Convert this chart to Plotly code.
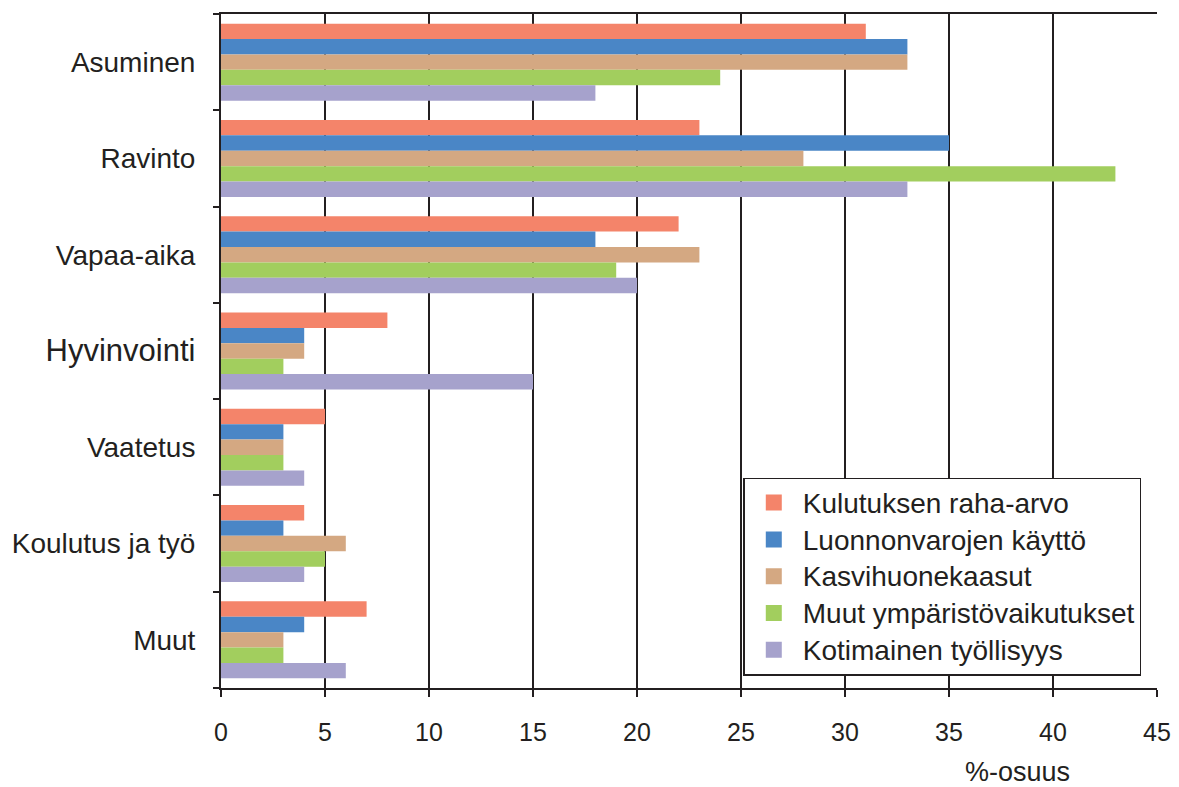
import plotly.graph_objects as go

categories = ["Asuminen", "Ravinto", "Vapaa-aika", "Hyvinvointi", "Vaatetus", "Koulutus ja työ", "Muut"]
series_names = ["Kulutuksen raha-arvo", "Luonnonvarojen käyttö", "Kasvihuonekaasut",
                "Muut ympäristövaikutukset", "Kotimainen työllisyys"]
raha_arvo = [31, 23, 22, 8, 5, 4, 7]
luonnonvarat = [33, 35, 18, 4, 3, 3, 4]
kasvihuone = [33, 28, 23, 4, 3, 6, 3]
muut_ymp = [24, 43, 19, 3, 3, 5, 3]
tyollisyys = [18, 33, 20, 15, 4, 4, 6]
x_ticks = [0, 5, 10, 15, 20, 25, 30, 35, 40, 45]

colors = ["#F4846A", "#4A86C6", "#D4A882", "#A2CE5E", "#A6A2CC"]
values = [raha_arvo, luonnonvarat, kasvihuone, muut_ymp, tyollisyys]
ink = "#231f20"

fig = go.Figure()
for name, vals, col in zip(series_names, values, colors):
    fig.add_trace(go.Bar(y=categories, x=vals, name=name, orientation="h",
                         marker=dict(color=col, line=dict(width=0)), showlegend=False))
# legend entries with larger square swatches
for name, col in zip(series_names, colors):
    fig.add_trace(go.Scatter(x=[None], y=[None], mode="markers",
                             name='<span style="font-size:28px">' + name + '</span>',
                             marker=dict(symbol="square", size=20, color=col)))

ticktext = [c if c != "Hyvinvointi" else '<span style="font-size:31px">Hyvinvointi</span>'
            for c in categories]

font_family = "Liberation Sans, Arial, sans-serif"
fig.update_layout(
    width=1167, height=779,
    barmode="group", bargap=0.2, bargroupgap=0,
    plot_bgcolor="white", paper_bgcolor="white",
    margin=dict(l=209, r=15, t=4, b=99),
    font=dict(family=font_family, size=28, color=ink),
    legend=dict(x=0.558, y=0.312, xanchor="left", yanchor="top",
                bordercolor=ink, borderwidth=1.5, bgcolor="white",
                traceorder="normal", font=dict(size=26), itemwidth=48,
                tracegroupgap=0),
    xaxis=dict(range=[0, 45], tickvals=x_ticks, showgrid=True, gridcolor=ink,
               gridwidth=2, showline=True, linecolor=ink, linewidth=2, mirror=True,
               ticks="outside", ticklen=7, tickwidth=2, tickcolor=ink,
               zeroline=False, tickfont=dict(size=25), ticklabelstandoff=14),
    yaxis=dict(autorange="reversed", showline=True, linecolor=ink, linewidth=2,
               categoryorder="array", categoryarray=categories,
               tickvals=categories, ticktext=ticktext,
               ticks="outside", tickson="boundaries", ticklen=6, tickwidth=2,
               tickcolor=ink, showgrid=False, tickfont=dict(size=28), ticklabelstandoff=18),
)
fig.add_annotation(text="%-osuus", xref="paper", yref="paper", x=0.851, y=-0.1245,
                   xanchor="center", yanchor="middle", showarrow=False, font=dict(size=27))
fig.write_html("out.html")
